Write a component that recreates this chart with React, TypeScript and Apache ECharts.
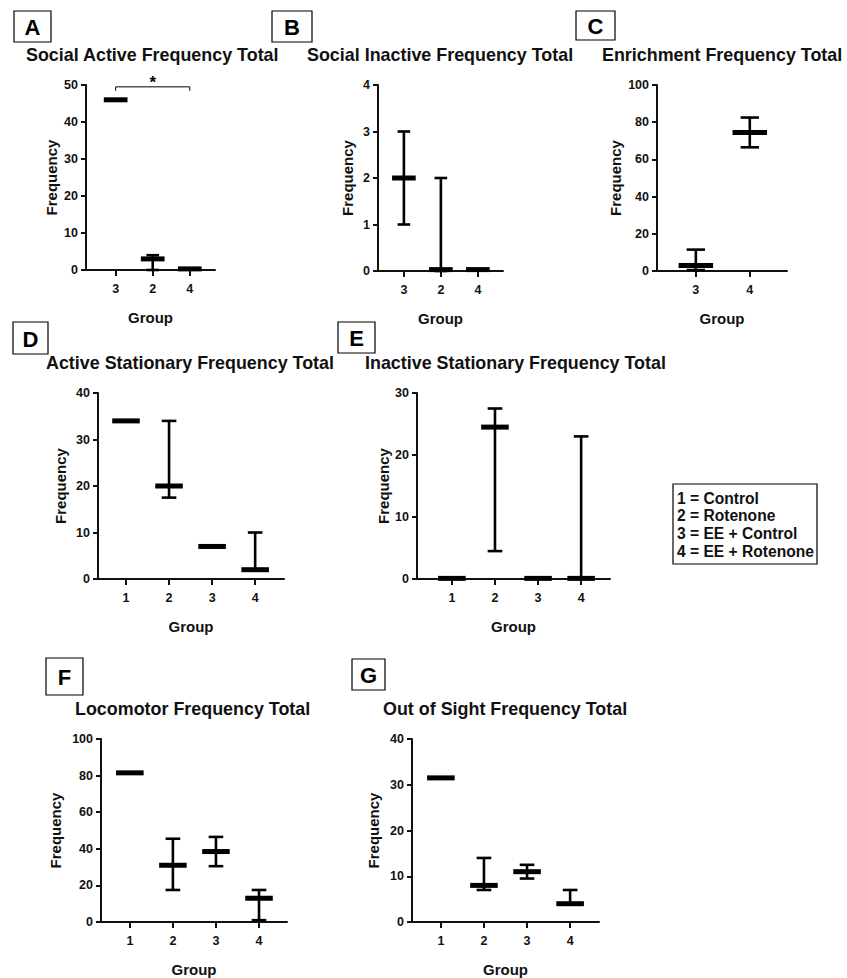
import React, { useEffect, useRef } from 'react';
import * as echarts from 'echarts';

const FONT = '"Liberation Sans", Arial, Helvetica, sans-serif';
const INK = '#111';

// ---------- Data ----------
// A
const aTitle = 'Social Active Frequency Total';
const aGroups = ['3', '2', '4'];
const aMedian = [46, 3, 0.3];
const aLow: (number | null)[] = [null, 0, null];
const aHigh: (number | null)[] = [null, 4, null];
const aYMax = 50;
const aYStep = 10;
const aSigPair = [1, 3];
const aSigLevel = 49.5;
const aSigLabel = '*';
// B
const bTitle = 'Social Inactive Frequency Total';
const bGroups = ['3', '2', '4'];
const bMedian = [2, 0.03, 0.03];
const bLow: (number | null)[] = [1, 0, null];
const bHigh: (number | null)[] = [3, 2, null];
const bYMax = 4;
const bYStep = 1;
// C
const cTitle = 'Enrichment Frequency Total';
const cGroups = ['3', '4'];
const cMedian = [3, 74.5];
const cLow: (number | null)[] = [0.5, 66.5];
const cHigh: (number | null)[] = [11.5, 82.5];
const cYMax = 100;
const cYStep = 20;
// D
const dTitle = 'Active Stationary Frequency Total';
const dGroups = ['1', '2', '3', '4'];
const dMedian = [34, 20, 7, 2];
const dLow: (number | null)[] = [null, 17.5, null, 2];
const dHigh: (number | null)[] = [null, 34, null, 10];
const dYMax = 40;
const dYStep = 10;
// E
const eTitle = 'Inactive Stationary Frequency Total';
const eGroups = ['1', '2', '3', '4'];
const eMedian = [0.1, 24.5, 0.1, 0.1];
const eLow: (number | null)[] = [null, 4.5, null, 0];
const eHigh: (number | null)[] = [null, 27.5, null, 23];
const eYMax = 30;
const eYStep = 10;
// F
const fTitle = 'Locomotor Frequency Total';
const fGroups = ['1', '2', '3', '4'];
const fMedian = [81.5, 31, 38.5, 13];
const fLow: (number | null)[] = [null, 17.5, 30.5, 1];
const fHigh: (number | null)[] = [null, 45.5, 46.5, 17.5];
const fYMax = 100;
const fYStep = 20;
// G
const gTitle = 'Out of Sight Frequency Total';
const gGroups = ['1', '2', '3', '4'];
const gMedian = [31.5, 8, 11, 4];
const gLow: (number | null)[] = [null, 7, 9.5, 4];
const gHigh: (number | null)[] = [null, 14, 12.5, 7];
const gYMax = 40;
const gYStep = 10;

const legendLines = ['1 = Control', '2 = Rotenone', '3 = EE + Control', '4 = EE + Rotenone'];
const yName = 'Frequency';
const xName = 'Group';

// ---------- Layout ----------
const panels = [
  { letter: 'A', title: aTitle, groups: aGroups, med: aMedian, lo: aLow, hi: aHigh, yMax: aYMax, yStep: aYStep,
    grid: { left: 86, top: 85, width: 129, height: 185 }, xMin: 0.2, xMax: 3.68, nameGap: 27,
    box: [14, 11, 37, 31], titlePos: [26, 55] },
  { letter: 'B', title: bTitle, groups: bGroups, med: bMedian, lo: bLow, hi: bHigh, yMax: bYMax, yStep: bYStep,
    grid: { left: 378, top: 85, width: 125, height: 186 }, xMin: 0.3, xMax: 3.68, nameGap: 23,
    box: [272, 11, 40, 31], titlePos: [307, 55] },
  { letter: 'C', title: cTitle, groups: cGroups, med: cMedian, lo: cLow, hi: cHigh, yMax: cYMax, yStep: cYStep,
    grid: { left: 657, top: 85, width: 130, height: 186 }, xMin: 0.28, xMax: 2.69, nameGap: 34,
    box: [576, 11, 39, 29], titlePos: [602, 55] },
  { letter: 'D', title: dTitle, groups: dGroups, med: dMedian, lo: dLow, hi: dHigh, yMax: dYMax, yStep: dYStep,
    grid: { left: 98, top: 393, width: 186, height: 186 }, xMin: 0.35, xMax: 4.67, nameGap: 30,
    box: [13, 322, 35, 32], titlePos: [46, 363] },
  { letter: 'E', title: eTitle, groups: eGroups, med: eMedian, lo: eLow, hi: eHigh, yMax: eYMax, yStep: eYStep,
    grid: { left: 417, top: 393, width: 193, height: 186 }, xMin: 0.19, xMax: 4.67, nameGap: 24,
    box: [338, 322, 37, 31], titlePos: [365, 363] },
  { letter: 'F', title: fTitle, groups: fGroups, med: fMedian, lo: fLow, hi: fHigh, yMax: fYMax, yStep: fYStep,
    grid: { left: 101, top: 739, width: 186, height: 186 }, xMin: 0.33, xMax: 4.65, nameGap: 38,
    box: [46, 658, 37, 37], titlePos: [75, 709] },
  { letter: 'G', title: gTitle, groups: gGroups, med: gMedian, lo: gLow, hi: gHigh, yMax: gYMax, yStep: gYStep,
    grid: { left: 412, top: 739, width: 187, height: 186 }, xMin: 0.33, xMax: 4.67, nameGap: 31,
    box: [352, 659, 33, 31], titlePos: [383, 709] },
];

function renderErr(_params: any, api: any) {
  const x = api.value(0);
  const med = api.value(1);
  const lo = api.value(2);
  const hi = api.value(3);
  const unit = api.size([1, 0])[0];
  const barW = unit * 0.64;
  const capW = unit * 0.34;
  const pm = api.coord([x, med]);
  const children: any[] = [];
  const ls = { stroke: '#000', lineWidth: 2.6 };
  if (lo !== hi) {
    const pl = api.coord([x, lo]);
    const ph = api.coord([x, hi]);
    children.push({ type: 'line', shape: { x1: pl[0], y1: pl[1], x2: ph[0], y2: ph[1] }, style: ls });
    children.push({ type: 'line', shape: { x1: pl[0] - capW / 2, y1: pl[1], x2: pl[0] + capW / 2, y2: pl[1] }, style: ls });
    children.push({ type: 'line', shape: { x1: ph[0] - capW / 2, y1: ph[1], x2: ph[0] + capW / 2, y2: ph[1] }, style: ls });
  }
  children.push({ type: 'rect', shape: { x: pm[0] - barW / 2, y: pm[1] - 2.5, width: barW, height: 5 }, style: { fill: '#000' } });
  return { type: 'group', children };
}

function renderSig(_params: any, api: any) {
  const p1 = api.coord([api.value(0), api.value(2)]);
  const p2 = api.coord([api.value(1), api.value(2)]);
  return {
    type: 'group',
    children: [
      { type: 'polyline', shape: { points: [[p1[0], p1[1] + 4], [p1[0], p1[1]], [p2[0], p2[1]], [p2[0], p2[1] + 4]] },
        style: { stroke: '#000', lineWidth: 1, fill: null } },
      { type: 'text', x: (p1[0] + p2[0]) / 2, y: p1[1] + 4,
        style: { text: aSigLabel, fill: '#000', font: `bold 17px ${FONT}`, align: 'center', verticalAlign: 'bottom', textAlign: 'center', textVerticalAlign: 'bottom' } },
    ],
  };
}

export default function App() {
  const ref = useRef<HTMLDivElement>(null);
  useEffect(() => {
    document.body.style.margin = '0';
    const chart = echarts.init(ref.current!, undefined, { renderer: 'svg' });
    const grids: any[] = [];
    const xAxes: any[] = [];
    const yAxes: any[] = [];
    const series: any[] = [];
    const graphics: any[] = [];
    panels.forEach((p, i) => {
      grids.push({ ...p.grid, containLabel: false });
      const ticks = p.groups.map((_g, k) => k + 1);
      xAxes.push({
        type: 'value', gridIndex: i, min: p.xMin, max: p.xMax,
        name: xName, nameLocation: 'middle', nameGap: 40,
        nameTextStyle: { fontFamily: FONT, fontWeight: 'bold', fontSize: 15, color: INK },
        splitLine: { show: false },
        axisLine: { show: true, onZero: false, lineStyle: { color: INK, width: 2 } },
        axisTick: { show: true, customValues: ticks, length: 6, lineStyle: { color: INK, width: 2 } },
        axisLabel: { customValues: ticks, margin: 12, fontFamily: FONT, fontWeight: 'bold', fontSize: 12.5, color: INK,
          formatter: (v: number) => p.groups[Math.round(v) - 1] ?? '' },
      });
      yAxes.push({
        type: 'value', gridIndex: i, min: 0, max: p.yMax, interval: p.yStep,
        name: yName, nameLocation: 'middle', nameGap: p.nameGap, nameRotate: 90,
        nameTextStyle: { fontFamily: FONT, fontWeight: 'bold', fontSize: 15, color: INK },
        splitLine: { show: false },
        axisLine: { show: true, lineStyle: { color: INK, width: 2 } },
        axisTick: { show: true, length: 5, lineStyle: { color: INK, width: 2 } },
        axisLabel: { margin: 8, fontFamily: FONT, fontWeight: 'bold', fontSize: 12.5, color: INK },
      });
      series.push({
        type: 'custom', xAxisIndex: i, yAxisIndex: i, renderItem: renderErr, clip: false,
        encode: { x: 0, y: [1, 2, 3] },
        data: p.med.map((m, k) => [k + 1, m, p.lo[k] ?? m, p.hi[k] ?? m]),
      });
      const [bx, by, bw, bh] = p.box;
      graphics.push({ type: 'rect', shape: { x: bx, y: by, width: bw, height: bh }, style: { fill: '#fff', stroke: '#000', lineWidth: 1.2 } });
      graphics.push({ type: 'text', x: bx + bw / 2, y: by + bh / 2 + 1,
        style: { text: p.letter, fill: '#000', font: `bold 22px ${FONT}`, align: 'center', verticalAlign: 'middle', textAlign: 'center', textVerticalAlign: 'middle' } });
      graphics.push({ type: 'text', x: p.titlePos[0], y: p.titlePos[1],
        style: { text: p.title, fill: INK, font: `bold 17.9px ${FONT}`, align: 'left', verticalAlign: 'middle', textAlign: 'left', textVerticalAlign: 'middle' } });
    });
    series.push({
      type: 'custom', xAxisIndex: 0, yAxisIndex: 0, renderItem: renderSig, clip: false,
      encode: { x: [0, 1], y: 2 },
      data: [[aSigPair[0], aSigPair[1], aSigLevel]],
    });
    graphics.push({ type: 'rect', shape: { x: 673, y: 484, width: 144, height: 80 }, style: { fill: '#fff', stroke: '#000', lineWidth: 1.2 } });
    legendLines.forEach((t, k) => {
      graphics.push({ type: 'text', x: 677, y: 498 + k * 17.7,
        style: { text: t, fill: INK, font: `bold 15.6px ${FONT}`, align: 'left', verticalAlign: 'middle', textAlign: 'left', textVerticalAlign: 'middle' } });
    });
    chart.setOption({
      animation: false,
      backgroundColor: '#fff',
      grid: grids,
      xAxis: xAxes,
      yAxis: yAxes,
      series,
      graphic: { elements: graphics },
    });
    return () => chart.dispose();
  }, []);
  return <div ref={ref} style={{ width: 847, height: 978 }} />;
}
